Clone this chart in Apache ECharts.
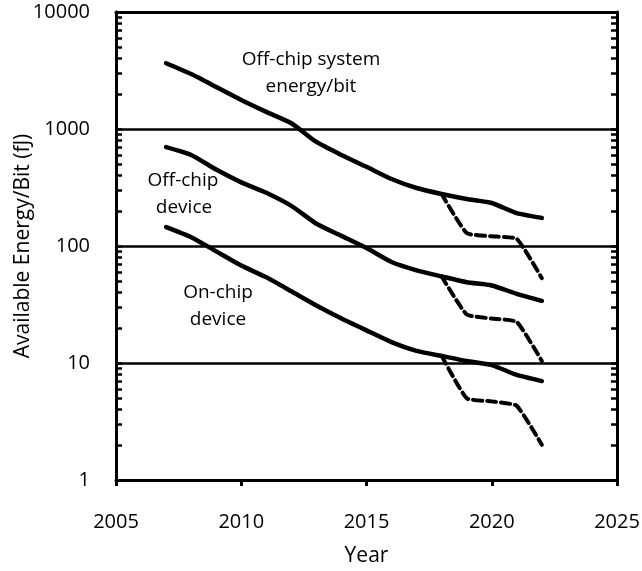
<!DOCTYPE html>
<html>
<head>
<meta charset="utf-8">
<script src="https://cdn.jsdelivr.net/npm/echarts@6/dist/echarts.min.js"></script>
<style>
  html, body { margin: 0; padding: 0; background: #fff; }
  #chart { width: 642px; height: 571px; }
</style>
</head>
<body>
<div id="chart"></div>
<script>
// data
var years = [2007, 2008, 2009, 2010, 2011, 2012, 2013, 2014, 2015, 2016, 2017, 2018, 2019, 2020, 2021, 2022]
var offChipSystem = [3650, 2950, 2290, 1770, 1400, 1120, 775, 600, 475, 374, 313, 278, 252, 233, 191, 174]
var offChipDevice = [700, 600, 450, 350, 285, 220, 155, 122, 96, 73, 62, 55, 49, 46, 39, 34]
var onChipDevice = [145, 119, 90, 68, 54, 41, 31, 24, 19, 15.1, 12.7, 11.5, 10.4, 9.6, 7.9, 7.0]

// dashed branches
var dashYears = [2018, 2019, 2020, 2021, 2022]
var offChipSystemDash = [278, 129, 121, 115, 53]
var offChipDeviceDash = [55, 26, 24, 22.4, 10.4]
var onChipDeviceDash = [11.5, 5.0, 4.7, 4.3, 2.0]

var xTicks = [2005, 2010, 2015, 2020, 2025]
var yLabels = [1, 10, 100, 1000, 10000]

var font = 'Open Sans'
var plotWidth = 642 - 116 - 25

// log minor ticks 1..9 per decade
var logTicks = []
for (var d = 1; d < 10000; d *= 10) {
  for (var k = 1; k <= 9; k++) logTicks.push(k * d)
}
logTicks.push(10000)

function pairs (xs, ys) {
  return xs.map(function (x, i) { return [x, ys[i]] })
}

function solid (data) {
  return {
    type: 'line', data: data, smooth: 0.2, symbol: 'none',
    lineStyle: { color: '#000', width: 4.5, cap: 'round', join: 'round' }
  }
}
function dashed (data) {
  return {
    type: 'line', data: data, smooth: 0.15, symbol: 'none',
    lineStyle: { color: '#000', width: 4, type: [9, 5], cap: 'round', join: 'round' }
  }
}

function note (text, x, y) {
  return {
    type: 'text', x: x, y: y,
    style: { text: text, font: '19px "Open Sans"', fill: '#000', align: 'center', verticalAlign: 'middle' }
  }
}

// axis carrying only the log ticks; the left one is a right axis pulled over
function tickAxis (offset, inside) {
  return {
    type: 'log', logBase: 10, min: 1, max: 10000, position: 'right', offset: offset,
    axisLine: { show: true, onZero: false, lineStyle: { color: '#000', width: 3 } },
    axisTick: {
      show: true, inside: inside, length: 6,
      lineStyle: { color: '#000', width: 2.5 },
      customValues: logTicks
    },
    axisLabel: { show: false },
    splitLine: { show: false }
  }
}

var chart = echarts.init(document.getElementById('chart'))
chart.setOption({
  animation: false,
  grid: { left: 116, right: 25, top: 12, bottom: 91, outerBoundsMode: 'none', containLabel: false },
  xAxis: [
    {
      type: 'value', min: 2005, max: 2025, interval: 5,
      name: 'Year', nameLocation: 'middle', nameGap: 66,
      nameTextStyle: { fontFamily: font, fontSize: 21, color: '#000' },
      axisLine: { show: true, lineStyle: { color: '#000', width: 3 } },
      axisTick: { show: true, inside: false, length: 6, lineStyle: { color: '#000', width: 3 } },
      axisLabel: {
        fontFamily: font, fontSize: 20, color: '#000', margin: 32,
        customValues: xTicks,
        formatter: function (v) { return String(v) }
      },
      splitLine: { show: false }
    },
    {
      type: 'value', position: 'top', min: 2005, max: 2025,
      axisLine: { show: true, lineStyle: { color: '#000', width: 3 } },
      axisTick: { show: false }, axisLabel: { show: false }, splitLine: { show: false }
    }
  ],
  yAxis: [
    {
      // labels, name and decade gridlines
      type: 'log', logBase: 10, min: 1, max: 10000, splitNumber: 4,
      name: 'Available Energy/Bit (fJ)', nameLocation: 'middle', nameGap: 82,
      nameMoveOverlap: false,
      nameTextStyle: { fontFamily: font, fontSize: 21, color: '#000' },
      axisLine: { show: true, onZero: false, lineStyle: { color: '#000', width: 3 } },
      axisTick: { show: false },
      axisLabel: {
        fontFamily: font, fontSize: 20, color: '#000', margin: 26,
        customValues: yLabels,
        formatter: function (v) { return String(v) }
      },
      splitLine: { show: true, lineStyle: { color: '#000', width: 2.5 } }
    },
    tickAxis(-plotWidth, false),
    tickAxis(0, true)
  ],
  series: [
    solid(pairs(years, offChipSystem)),
    solid(pairs(years, offChipDevice)),
    solid(pairs(years, onChipDevice)),
    dashed(pairs(dashYears, offChipSystemDash)),
    dashed(pairs(dashYears, offChipDeviceDash)),
    dashed(pairs(dashYears, onChipDeviceDash))
  ],
  graphic: [
    note('Off-chip system', 311, 60),
    note('energy/bit', 311, 87),
    note('Off-chip', 183, 181),
    note('device', 184, 208),
    note('On-chip', 218, 293),
    note('device', 218, 320)
  ]
})
</script>
</body>
</html>
